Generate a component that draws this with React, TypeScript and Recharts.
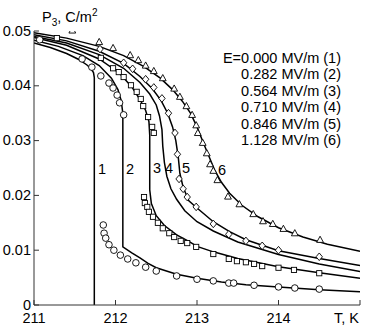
import React from "react";
import { ComposedChart, Line, Scatter, XAxis, YAxis } from "recharts";

// axis ticks
const xTicks = [211, 212, 213, 214, 215];
const xTickLabels = ["211", "212", "213", "214", ""];
const yTicks = [0, 0.01, 0.02, 0.03, 0.04, 0.05];
const yTickLabels = ["0", "0.01", "0.02", "0.03", "0.04", "0.05"];

const legendLines = [
  "E=0.000 MV/m (1)",
  "0.282 MV/m (2)",
  "0.564 MV/m (3)",
  "0.710 MV/m (4)",
  "0.846 MV/m (5)",
  "1.128 MV/m (6)",
];
const curveLabels = ["1", "2", "3", "4", "5", "6"];

// theory curves, [T, P]
const line1 = [
  [211, 0.0478], [211.2, 0.047], [211.4, 0.0459], [211.55, 0.0448], [211.65, 0.0438],
  [211.7, 0.0431], [211.73, 0.0424], [211.74, 0.0415], [211.74, 0],
];
const line2 = [
  [211, 0.0483], [211.3, 0.0472], [211.6, 0.0455], [211.8, 0.0437], [211.95, 0.0414],
  [212.03, 0.0393], [212.07, 0.0373], [212.09, 0.035], [212.09, 0.0106], [212.2, 0.0095],
  [212.3, 0.0086], [212.4, 0.0076], [212.5, 0.0068], [212.75, 0.0056], [213.0, 0.0049],
  [213.3, 0.0042], [213.6, 0.0037], [214.0, 0.0033], [214.5, 0.0028], [215, 0.0024],
];
const line3 = [
  [211, 0.0488], [211.4, 0.0474], [211.8, 0.0449], [212.05, 0.0423], [212.2, 0.0398],
  [212.3, 0.0375], [212.37, 0.0355], [212.41, 0.0335], [212.42, 0.031], [212.42, 0.021],
  [212.44, 0.0185], [212.5, 0.0163], [212.6, 0.0145], [212.75, 0.0128], [212.9, 0.0116],
  [213.0, 0.0107], [213.2, 0.0097], [213.5, 0.0085], [214.0, 0.007], [214.5, 0.0059], [215, 0.0049],
];
const line4 = [
  [211, 0.049], [211.4, 0.0478], [211.8, 0.0457], [212.1, 0.0432], [212.3, 0.0406],
  [212.42, 0.0385], [212.5, 0.0365], [212.54, 0.0345], [212.57, 0.032], [212.58, 0.029],
  [212.6, 0.026], [212.63, 0.0235], [212.68, 0.0212], [212.75, 0.0193], [212.85, 0.0172],
  [213.0, 0.0152], [213.2, 0.0135], [213.5, 0.0115], [214.0, 0.0092], [214.5, 0.0075], [215, 0.0061],
];
const line5 = [
  [211, 0.0493], [211.4, 0.0482], [211.8, 0.0463], [212.1, 0.0441], [212.3, 0.0417],
  [212.45, 0.0395], [212.56, 0.0373], [212.64, 0.035], [212.7, 0.0325], [212.74, 0.03],
  [212.77, 0.027], [212.79, 0.024], [212.83, 0.0215], [212.9, 0.019], [213.0, 0.0177],
  [213.2, 0.0152], [213.4, 0.0134], [213.6, 0.0119], [214.0, 0.0099], [214.5, 0.0085], [215, 0.0072],
];
const line6 = [
  [211, 0.0497], [211.4, 0.0487], [211.8, 0.0472], [212.1, 0.0455], [212.35, 0.0435],
  [212.55, 0.0414], [212.7, 0.0393], [212.82, 0.0372], [212.92, 0.035], [213.0, 0.0325],
  [213.08, 0.0295], [213.15, 0.027], [213.22, 0.0245], [213.3, 0.0224], [213.4, 0.0204],
  [213.55, 0.0182], [213.75, 0.0161], [214.0, 0.0141], [214.3, 0.0124], [214.6, 0.0111], [215, 0.0098],
];

// measured points, [T, P]
const circles = [
  [211.07, 0.0484], [211.59, 0.0449], [211.71, 0.0434], [211.82, 0.0418], [211.92, 0.0405],
  [211.97, 0.0396], [212.02, 0.0383], [212.05, 0.0369], [212.1, 0.0347],
  [211.85, 0.0146], [211.86, 0.0131], [211.88, 0.0122], [211.92, 0.011], [211.98, 0.01],
  [212.06, 0.0091], [212.15, 0.0084], [212.25, 0.0077], [212.37, 0.0069], [212.5, 0.0062],
  [212.75, 0.0053], [213.0, 0.0047], [213.2, 0.0044], [213.39, 0.004], [213.45, 0.004],
  [213.7, 0.0036], [214.0, 0.0033], [214.2, 0.0031], [214.5, 0.0029],
];
const squares = [
  [211.28, 0.0487], [211.82, 0.0451], [211.97, 0.0432], [212.04, 0.0425], [212.1, 0.0416],
  [212.19, 0.0401], [212.26, 0.0389], [212.31, 0.0376], [212.34, 0.0363], [212.4, 0.0343],
  [212.45, 0.0325], [212.47, 0.0314],
  [212.35, 0.0197], [212.36, 0.0186], [212.39, 0.0179], [212.41, 0.017], [212.46, 0.0161],
  [212.52, 0.015], [212.58, 0.014], [212.66, 0.0131], [212.72, 0.0124], [212.8, 0.0117],
  [212.88, 0.0113], [212.99, 0.0106], [213.2, 0.0093], [213.39, 0.0084], [213.49, 0.008],
  [213.6, 0.0078], [213.7, 0.0075], [213.8, 0.0071], [214.0, 0.0068], [214.19, 0.0064], [214.5, 0.0058],
];
const diamonds = [
  [211.81, 0.0467], [212.1, 0.0442], [212.21, 0.0431], [212.37, 0.0412], [212.47, 0.0397],
  [212.57, 0.0377], [212.65, 0.035], [212.73, 0.0314], [212.76, 0.0275], [212.78, 0.023],
  [212.83, 0.0212], [212.88, 0.0197], [212.99, 0.0179], [213.2, 0.0148], [213.39, 0.0129],
  [213.6, 0.0117], [213.8, 0.0108], [214.0, 0.01], [214.5, 0.0088],
];
const triangles = [
  [211.47, 0.0501], [211.8, 0.048], [211.97, 0.0469], [212.18, 0.0456], [212.28, 0.0447],
  [212.37, 0.0437], [212.47, 0.0427], [212.58, 0.0414], [212.72, 0.0395], [212.79, 0.038],
  [212.87, 0.0363], [212.94, 0.0347], [212.99, 0.0328], [213.01, 0.0314], [213.07, 0.0296],
  [213.12, 0.0277], [213.16, 0.0257], [213.2, 0.0245], [213.25, 0.0228], [213.38, 0.0198],
  [213.52, 0.0184], [213.69, 0.0166], [213.81, 0.0153], [213.93, 0.0148], [214.06, 0.0139],
  [214.2, 0.0131], [214.51, 0.0119],
];

const toPts = (a: number[][]) => a.map(([T, P]) => ({ T, P }));
const lines = [line1, line2, line3, line4, line5, line6];

const FONT = "'Liberation Sans', Arial, Helvetica, sans-serif";
const FS = 14.5;
const FRAME = "#333";

const BottomTick = (p: any) => (
  <g>
    <line x1={p.x} x2={p.x} y1={p.y} y2={p.y - 5} stroke={FRAME} />
    <text x={p.x} y={p.y + 18} textAnchor="middle" fontSize={FS} fontFamily={FONT} fill="#000">
      {xTickLabels[p.index]}
    </text>
  </g>
);
const TopTick = (p: any) => <line x1={p.x} x2={p.x} y1={p.y} y2={p.y + 5} stroke={FRAME} />;
const LeftTick = (p: any) => (
  <g>
    <line x1={p.x} x2={p.x + 5} y1={p.y} y2={p.y} stroke={FRAME} />
    <text x={p.x - 3} y={p.y + 4.5} textAnchor="end" fontSize={FS} fontFamily={FONT} fill="#000">
      {yTickLabels[p.index]}
    </text>
  </g>
);
const RightTick = (p: any) => <line x1={p.x} x2={p.x - 5} y1={p.y} y2={p.y} stroke={FRAME} />;

// open markers, white inside like the original
const mk = { fill: "#fff", stroke: "#000", strokeWidth: 0.9 };
const Circle = (p: any) => <circle cx={p.cx} cy={p.cy} r={3.3} {...mk} />;
const Square = (p: any) => <rect x={p.cx - 2.6} y={p.cy - 2.6} width={5.2} height={5.2} {...mk} />;
const Diamond = (p: any) => (
  <path d={`M${p.cx},${p.cy - 3.8}L${p.cx + 3.2},${p.cy}L${p.cx},${p.cy + 3.8}L${p.cx - 3.2},${p.cy}Z`} {...mk} />
);
const Triangle = (p: any) => (
  <path d={`M${p.cx},${p.cy - 3.6}L${p.cx + 3.4},${p.cy + 2.6}L${p.cx - 3.4},${p.cy + 2.6}Z`} {...mk} />
);

const curveLabelPos = [
  [102, 174], [130, 174], [157, 173], [169, 173], [186, 173], [222, 175],
];

export default function App() {
  return (
    <div style={{ position: "absolute", left: 0, top: 0, width: 368, height: 328, background: "#fff" }}>
      <ComposedChart width={368} height={328} margin={{ top: 31, right: 8, bottom: 0, left: 0 }}>
        <XAxis xAxisId="b" type="number" dataKey="T" domain={[211, 215]} ticks={xTicks} height={23}
          tickSize={0} tickMargin={0} tickLine={false} axisLine={{ stroke: FRAME }} tick={<BottomTick />}
          allowDataOverflow interval={0} />
        <XAxis xAxisId="t" orientation="top" type="number" dataKey="T" domain={[211, 215]} ticks={xTicks}
          height={0} tickSize={0} tickMargin={0} tickLine={false} axisLine={{ stroke: FRAME }} tick={<TopTick />}
          allowDataOverflow interval={0} />
        <YAxis yAxisId="l" type="number" dataKey="P" domain={[0, 0.05]} ticks={yTicks} width={34}
          tickSize={0} tickMargin={0} tickLine={false} axisLine={{ stroke: FRAME }} tick={<LeftTick />}
          allowDataOverflow interval={0} />
        <YAxis yAxisId="r" orientation="right" type="number" dataKey="P" domain={[0, 0.05]} ticks={yTicks}
          width={0} tickSize={0} tickMargin={0} tickLine={false} axisLine={{ stroke: FRAME }} tick={<RightTick />}
          allowDataOverflow interval={0} />
        {lines.map((l, i) => (
          <Line key={i} xAxisId="b" yAxisId="l" data={toPts(l)} dataKey="P" type="linear" stroke="#000"
            strokeWidth={1.5} dot={false} activeDot={false} isAnimationActive={false} />
        ))}
        <Scatter xAxisId="b" yAxisId="l" data={toPts(circles)} dataKey="P" shape={<Circle />} isAnimationActive={false} />
        <Scatter xAxisId="b" yAxisId="l" data={toPts(squares)} dataKey="P" shape={<Square />} isAnimationActive={false} />
        <Scatter xAxisId="b" yAxisId="l" data={toPts(diamonds)} dataKey="P" shape={<Diamond />} isAnimationActive={false} />
        <Scatter xAxisId="b" yAxisId="l" data={toPts(triangles)} dataKey="P" shape={<Triangle />} isAnimationActive={false} />
      </ComposedChart>
      <svg width={368} height={328} style={{ position: "absolute", left: 0, top: 0, pointerEvents: "none" }}
        fontFamily={FONT} fontSize={FS} fill="#000">
        <text x={42} y={22}>
          P<tspan fontSize={10} dy={4}>3</tspan>
          <tspan dy={-4}>, C/m</tspan>
          <tspan fontSize={10} dy={-6}>2</tspan>
        </text>
        <text x={359} y={323} textAnchor="end">T, K</text>
        {legendLines.map((s, i) => (
          <text key={i} x={341} y={63 + i * 16.4} textAnchor="end">{s}</text>
        ))}
        {curveLabels.map((s, i) => (
          <text key={i} x={curveLabelPos[i][0]} y={curveLabelPos[i][1]} textAnchor="middle">{s}</text>
        ))}
      </svg>
    </div>
  );
}
